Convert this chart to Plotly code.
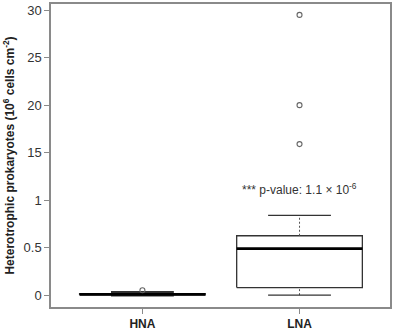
import plotly.graph_objects as go

# ---- data (original units, 10^6 cells cm^-2) ----
groups = ["HNA", "LNA"]
lower_whisker = [0.0, 0.0]
q1 = [0.002, 0.08]
median = [0.008, 0.49]
q3 = [0.015, 0.625]
upper_whisker = [0.03, 0.84]
outliers_hna = [0.052]
outliers_lna = [15.9, 20.0, 29.5]
tick_values = [0, 0.5, 1, 15, 20, 25, 30]
tick_labels = ["0", "0.5", "1", "15", "20", "25", "30"]
p_text = "*** p-value: 1.1 × 10<sup>-6</sup>"


def tr(v):
    """Broken-axis transform: 0-1 in lower segment, 15-30 in upper segment."""
    if v <= 1:
        return v / 0.5
    if v < 15:
        return 2 + (v - 1) / 14
    return 3 + (v - 15) / 5


half_box = 0.40
half_staple = 0.20
fig = go.Figure()
for i, g in enumerate(groups):
    lw = 1.3
    # box outline
    fig.add_trace(go.Scatter(
        x=[i - half_box, i + half_box, i + half_box, i - half_box, i - half_box],
        y=[tr(q1[i]), tr(q1[i]), tr(q3[i]), tr(q3[i]), tr(q1[i])],
        mode="lines", line=dict(color="#333333", width=lw), hoverinfo="skip"))
    # whiskers (dashed)
    fig.add_trace(go.Scatter(x=[i, i], y=[tr(q3[i]), tr(upper_whisker[i])], mode="lines",
                             line=dict(color="#555555", width=1, dash="2px,2px"), hoverinfo="skip"))
    fig.add_trace(go.Scatter(x=[i, i], y=[tr(lower_whisker[i]), tr(q1[i])], mode="lines",
                             line=dict(color="#555555", width=1, dash="2px,2px"), hoverinfo="skip"))
    # staples
    for w in (lower_whisker[i], upper_whisker[i]):
        fig.add_trace(go.Scatter(x=[i - half_staple, i + half_staple], y=[tr(w), tr(w)], mode="lines",
                                 line=dict(color="#333333", width=1.3 if i == 1 else 2.5), hoverinfo="skip"))
    # median
    fig.add_trace(go.Scatter(x=[i - half_box, i + half_box], y=[tr(median[i]), tr(median[i])], mode="lines",
                             line=dict(color="#000000", width=2.8), hoverinfo="skip"))

for i, outs in enumerate([outliers_hna, outliers_lna]):
    fig.add_trace(go.Scatter(x=[i] * len(outs), y=[tr(v) for v in outs], mode="markers",
                             marker=dict(symbol="circle-open", size=5, color="#666666",
                                         line=dict(width=1.1, color="#666666"))))

fig.add_annotation(x=1, y=2.23, xref="x", yref="y", text=p_text, showarrow=False,
                   font=dict(family="Liberation Sans, Arial", size=12, color="#333333"))

fig.update_layout(
    width=394, height=333, showlegend=False,
    plot_bgcolor="white", paper_bgcolor="white",
    margin=dict(l=51, r=2, t=2, b=25),
    font=dict(family="Liberation Sans, Arial", color="#222222"),
)
fig.update_xaxes(range=[-0.582, 1.576], tickvals=[0, 1], ticktext=["<b>HNA</b>", "<b>LNA</b>"],
                 showgrid=False, zeroline=False, showline=True, mirror=True,
                 linecolor="#8a8a8a", linewidth=1.5, ticks="outside", ticklen=5,
                 tickcolor="#8a8a8a", tickfont=dict(size=12, color="#222222"))
fig.update_yaxes(range=[-0.25, 6.13], tickvals=[tr(v) for v in tick_values], ticktext=tick_labels,
                 showgrid=False, zeroline=False, showline=True, mirror=True,
                 linecolor="#8a8a8a", linewidth=1.5, ticks="outside", ticklen=5,
                 tickcolor="#8a8a8a", tickfont=dict(size=13, color="#333333"),
                 title=dict(text="<b>Heterotrophic prokaryotes (10<sup>6</sup> cells cm<sup>-2</sup>)</b>",
                            font=dict(size=12, color="#222222"), standoff=6))

fig.write_html("out.html", config={"displayModeBar": False},
               post_script="document.body.style.margin='0';")
